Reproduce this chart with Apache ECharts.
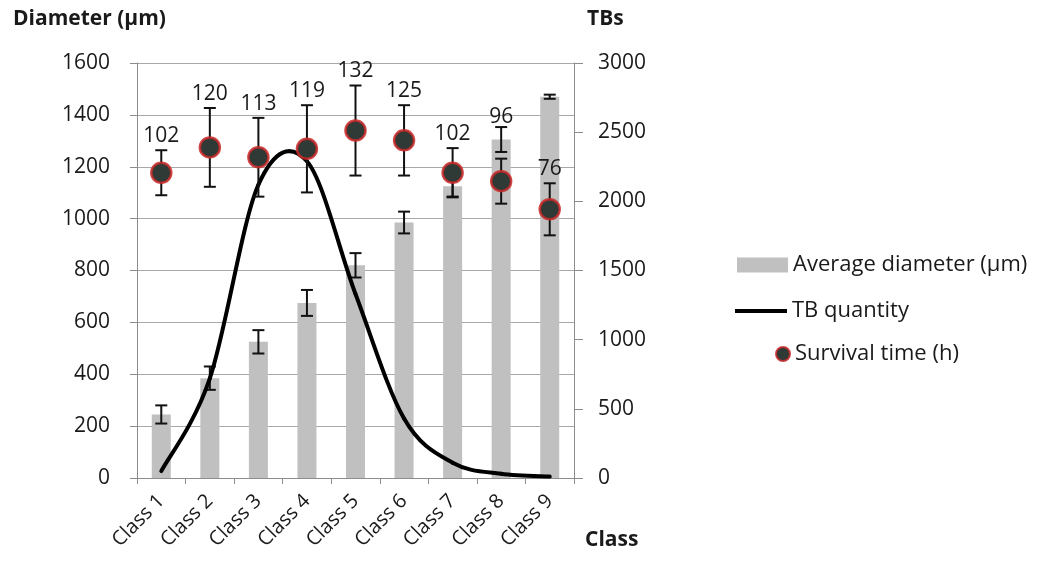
<!DOCTYPE html>
<html><head><meta charset="utf-8">
<script src="https://cdn.jsdelivr.net/npm/echarts@6/dist/echarts.min.js"></script>
<style>html,body{margin:0;padding:0;background:#fff}#c{width:1044px;height:570px}</style>
</head><body><div id="c"></div>
<script>
// ---- data ----
const categories = ['Class 1','Class 2','Class 3','Class 4','Class 5','Class 6','Class 7','Class 8','Class 9'];
const avgDiameter = [245, 385, 525, 675, 820, 985, 1125, 1305, 1470];
const avgDiameterErr = [35, 45, 45, 50, 47, 42, 40, 48, 8];
const tbQuantity = [50, 720, 2120, 2290, 1330, 430, 110, 30, 10];
const survivalTime = [102, 120, 113, 119, 132, 125, 102, 96, 76];
const survivalErr = [16, 28, 28, 31, 32, 25, 17.5, 16, 18.5];
const leftTicks = [0, 200, 400, 600, 800, 1000, 1200, 1400, 1600];
const rightTicks = [0, 500, 1000, 1500, 2000, 2500, 3000];

// ---- layout / style (not data) ----
const labelLift = [0, 0, 0, 0, 0, 0, 0, 28, 0];
const FONT = '"Open Sans", "Liberation Sans", sans-serif';
const TXT = '#1a1a1a';
const AXIS = '#8c8c8c';
const GRID = '#a8a8a8';
const TENSION = 1 / 6;

const chart = echarts.init(document.getElementById('c'), null, {renderer: 'canvas'});

function errRenderer(cap, withLabel) {
  return function (params, api) {
    const i = api.value(0), v = api.value(1), e = api.value(2);
    const top = api.coord([i, v + e]);
    const bot = api.coord([i, v - e]);
    const st = {stroke: '#111', lineWidth: 2};
    const children = [
      {type: 'line', shape: {x1: top[0], y1: top[1], x2: bot[0], y2: bot[1]}, style: st},
      {type: 'line', shape: {x1: top[0] - cap, y1: top[1], x2: top[0] + cap, y2: top[1]}, style: st},
      {type: 'line', shape: {x1: bot[0] - cap, y1: bot[1], x2: bot[0] + cap, y2: bot[1]}, style: st}
    ];
    if (withLabel) {
      children.push({type: 'text', x: top[0], y: top[1] - 14 - labelLift[params.dataIndex],
        style: {text: String(v), align: 'center', verticalAlign: 'middle', font: '21px ' + FONT, fill: TXT}});
    }
    return {type: 'group', children};
  };
}

// smoothed (Catmull-Rom style) line segment from point i to i+1, positioned by the axes
function smoothLineRenderer(values) {
  return function (params, api) {
    const i = params.dataIndex;
    const n = values.length;
    if (i >= n - 1) return null;
    const P = k => { const j = Math.max(0, Math.min(n - 1, k)); return api.coord([j, values[j]]); };
    const p0 = P(i - 1), p1 = P(i), p2 = P(i + 1), p3 = P(i + 2);
    return {
      type: 'bezierCurve',
      shape: {
        x1: p1[0], y1: p1[1], x2: p2[0], y2: p2[1],
        cpx1: p1[0] + (p2[0] - p0[0]) * TENSION, cpy1: p1[1] + (p2[1] - p0[1]) * TENSION,
        cpx2: p2[0] - (p3[0] - p1[0]) * TENSION, cpy2: p2[1] - (p3[1] - p1[1]) * TENSION
      },
      style: {stroke: '#000', lineWidth: 4, fill: null, lineCap: 'round'}
    };
  };
}

const plain = v => String(v);

const option = {
  backgroundColor: '#fff',
  animation: false,
  title: [
    {text: 'Diameter (µm)', left: 8, top: 4, textStyle: {fontFamily: FONT, fontSize: 21, fontWeight: 'bold', color: TXT}},
    {text: 'TBs', left: 582, top: 4, textStyle: {fontFamily: FONT, fontSize: 21, fontWeight: 'bold', color: TXT}},
    {text: 'Class', left: 580, top: 525, textStyle: {fontFamily: FONT, fontSize: 21, fontWeight: 'bold', color: TXT}}
  ],
  legend: [
    {data: ['Average diameter (µm)'], left: 732, top: 249, icon: 'rect', itemWidth: 51, itemHeight: 15,
      textStyle: {fontFamily: FONT, fontSize: 22, color: TXT}},
    {data: ['TB quantity'], left: 730, top: 295, icon: 'rect', itemWidth: 52, itemHeight: 4,
      textStyle: {fontFamily: FONT, fontSize: 22, color: TXT}},
    {data: ['Survival time (h)'], left: 770, top: 338, icon: 'circle', itemWidth: 14, itemHeight: 14,
      textStyle: {fontFamily: FONT, fontSize: 22, color: TXT}}
  ],
  grid: {left: 137, right: 470, top: 63, bottom: 92, containLabel: false},
  xAxis: {
    type: 'category', data: categories, boundaryGap: true,
    axisLine: {lineStyle: {color: AXIS, width: 1}},
    axisTick: {show: true, length: 6, lineStyle: {color: AXIS}},
    axisLabel: {rotate: 45, margin: 20, fontFamily: FONT, fontSize: 20, color: TXT, interval: 0}
  },
  yAxis: [
    {type: 'value', position: 'left', min: leftTicks[0], max: leftTicks[leftTicks.length - 1],
      interval: leftTicks[1] - leftTicks[0],
      axisLine: {show: true, lineStyle: {color: AXIS}},
      axisTick: {show: true, length: 7, lineStyle: {color: AXIS}},
      axisLabel: {margin: 27, fontFamily: FONT, fontSize: 21, color: TXT, formatter: plain},
      splitLine: {show: true, lineStyle: {color: GRID, width: 1}}},
    {type: 'value', position: 'right', min: rightTicks[0], max: rightTicks[rightTicks.length - 1],
      interval: rightTicks[1] - rightTicks[0],
      axisLine: {show: true, lineStyle: {color: AXIS}},
      axisTick: {show: true, length: 9, lineStyle: {color: AXIS}},
      axisLabel: {margin: 24, fontFamily: FONT, fontSize: 21, color: TXT, formatter: plain},
      splitLine: {show: false}},
    {type: 'value', show: false, min: -115, max: 180, splitLine: {show: false}}
  ],
  series: [
    {name: 'Average diameter (µm)', type: 'bar', data: avgDiameter, yAxisIndex: 0, barWidth: 19,
      itemStyle: {color: '#c0c0c0'}, z: 1},
    {type: 'custom', yAxisIndex: 0, z: 2, silent: true,
      data: categories.map((c, i) => [i, avgDiameter[i], avgDiameterErr[i]]),
      encode: {x: 0, y: 1}, renderItem: errRenderer(6, false)},
    {name: 'TB quantity', type: 'custom', yAxisIndex: 1, z: 3, silent: true,
      data: categories.map((c, i) => [i, tbQuantity[i]]),
      encode: {x: 0, y: 1}, itemStyle: {color: '#000'},
      renderItem: smoothLineRenderer(tbQuantity)},
    {type: 'custom', yAxisIndex: 2, z: 4, silent: true,
      data: categories.map((c, i) => [i, survivalTime[i], survivalErr[i]]),
      encode: {x: 0, y: 1}, renderItem: errRenderer(6, true)},
    {name: 'Survival time (h)', type: 'scatter', data: survivalTime, yAxisIndex: 2, symbolSize: 20,
      itemStyle: {color: '#2f3a36', borderColor: 'rgba(200,40,40,0.85)', borderWidth: 2.5, opacity: 1}, z: 5}
  ]
};
chart.setOption(option);
</script>
</body></html>
